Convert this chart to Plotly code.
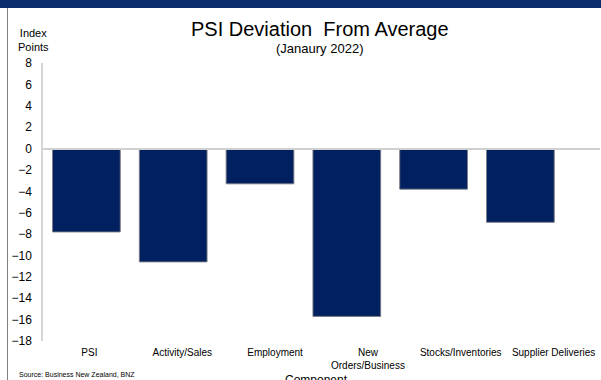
import plotly.graph_objects as go

categories = ["PSI", "Activity/Sales", "Employment", "New<br>Orders/Business",
              "Stocks/Inventories", "Supplier Deliveries"]
deviation = [-7.8, -10.6, -3.3, -15.7, -3.8, -6.9]
y_ticks = list(range(-18, 9, 2))

W, H = 601, 380
L, R, T, B = 43, 1, 63, 39
pw, ph = W - L - R, H - T - B


def px_x(x):
    return (x - L) / pw


def px_y(y):
    return (H - B - y) / ph


fig = go.Figure()
fig.add_trace(go.Bar(
    x=categories, y=deviation, xaxis="x", yaxis="y",
    marker=dict(color="#002060", line=dict(color="rgba(120,120,130,0.9)", width=1)),
    hoverinfo="skip",
))
# invisible companion trace carrying the category tick labels
fig.add_trace(go.Scatter(
    x=categories, y=deviation, xaxis="x2", yaxis="y",
    mode="markers", marker=dict(opacity=0), hoverinfo="skip", showlegend=False,
))

fig.update_layout(
    width=W, height=H,
    margin=dict(l=L, r=R, t=T, b=B),
    paper_bgcolor="white", plot_bgcolor="rgba(0,0,0,0)",
    showlegend=False, bargap=0.22,
    font=dict(family="Liberation Sans, Arial, sans-serif", color="#000000"),
    xaxis=dict(domain=[0, 0.935], anchor="y", type="category", range=[-0.5, 5.5],
               showticklabels=False, showgrid=False, zeroline=False, showline=False, ticks=""),
    xaxis2=dict(domain=[0, 1], anchor="y", type="category", range=[-0.5, 5.5],
                showgrid=False, zeroline=False, showline=False, ticks="",
                ticklabelstandoff=4,
                tickfont=dict(size=10, color="#000000")),
    yaxis=dict(anchor="x2", range=[-18, 8], tickvals=y_ticks, showgrid=False,
               zeroline=True, zerolinecolor="#d0d0d0", zerolinewidth=1.5,
               showline=True, linecolor="#d6d6d6", linewidth=1.5, ticks="",
               ticklabelstandoff=7, tickfont=dict(size=12, color="#000000")),
    shapes=[
        dict(type="rect", xref="paper", yref="paper",
             x0=px_x(0), x1=px_x(W), y0=px_y(8), y1=px_y(-2),
             fillcolor="#0a2d6e", line=dict(width=0), layer="above"),
        dict(type="line", xref="paper", yref="paper",
             x0=px_x(7.5), x1=px_x(7.5), y0=px_y(8), y1=px_y(H + 2),
             line=dict(color="#7f7f7f", width=1)),
    ],
    annotations=[
        dict(text="<span style='font-size:20px'>PSI Deviation  From Average</span><br>(Janaury 2022)",
             xref="paper", yref="paper",
             x=px_x(320), y=px_y(37), xanchor="center", yanchor="middle",
             showarrow=False, font=dict(size=13)),
        dict(text="Index<br>Points", xref="paper", yref="paper",
             x=px_x(33), y=px_y(40), xanchor="center", yanchor="middle",
             showarrow=False, font=dict(size=11)),
        dict(text="Source: Business New Zealand, BNZ", xref="paper", yref="paper",
             x=px_x(17), y=px_y(374), xanchor="left", yanchor="middle",
             showarrow=False, font=dict(size=7)),
        dict(text="Component", xref="paper", yref="paper",
             x=px_x(316), y=px_y(371), xanchor="center", yanchor="top",
             showarrow=False, font=dict(size=12)),
    ],
)

fig.write_html("out.html", config={"displayModeBar": False},
               post_script="document.body.style.margin='0';document.body.style.overflow='hidden';")
